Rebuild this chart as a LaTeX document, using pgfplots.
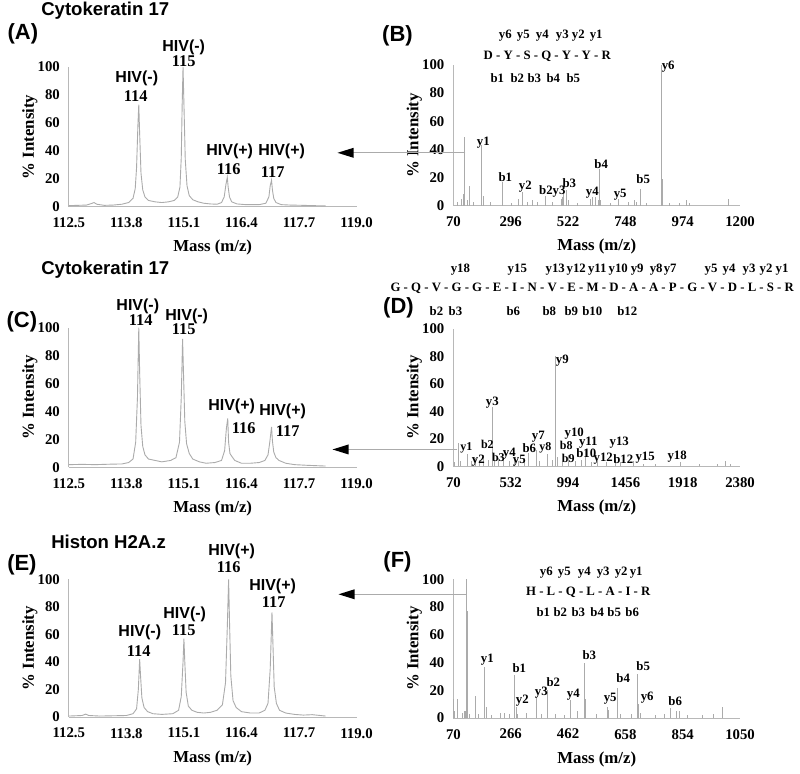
\documentclass[border=0pt]{standalone}
\usepackage{fontspec}
\setmainfont{Liberation Serif}
\newfontfamily\sansf{Liberation Sans}
\usepackage{pgfplots}
\pgfplotsset{compat=1.18}
\usetikzlibrary{arrows.meta}
\definecolor{spec}{HTML}{ABABAB}
\definecolor{axl}{HTML}{B8B8B8}
\newcommand\ionf{\fontsize{6.4}{7}\selectfont\bfseries}
\newcommand\ionfs{\fontsize{6.0}{7}\selectfont\bfseries}
\newcommand\hivf{\sansf\fontsize{8}{9}\selectfont\bfseries}
\newcommand\numf{\fontsize{8.2}{9}\selectfont\bfseries}
\newcommand\titf{\sansf\fontsize{9.3}{10}\selectfont\bfseries}
\newcommand\panf{\sansf\fontsize{11}{12}\selectfont\bfseries}
\newcommand\labf{\fontsize{8.4}{9}\selectfont\bfseries}
\pgfplotsset{
  spbase/.style={
    scale only axis, clip=false,
    axis lines*=left, axis line style={draw=axl, line width=0.5pt, -},
    ymin=0, ymax=100, ytick={0,20,...,100},
    tick style={draw=none},
    ticklabel style={font=\fontsize{7.4}{8}\selectfont\bfseries},
    /pgf/number format/assume math mode=true,
    /pgf/number format/1000 sep={},
    xlabel={Mass (m/z)}, ylabel={\% Intensity},
    every axis x label/.style={at={(axis description cs:0.5,0)}, anchor=center, yshift=-20.5pt, font=\labf},
    every axis y label/.style={at={(axis description cs:0,0.5)}, anchor=center, xshift=-19.5pt, rotate=90, font=\labf},
    xticklabel style={yshift=-2pt},
    yticklabel style={xshift=-1pt},
  },
  rep/.style={spbase, width=144pt, xmin=112.5, xmax=119.0,
    xtick={112.5,113.8,115.1,116.4,117.7,119.0},
    xticklabel style={/pgf/number format/.cd, fixed, fixed zerofill, precision=1}},
  msms/.style={spbase, width=143.5pt},
  tr/.style={spec, line width=0.45pt},
  st/.style={spec, line width=0.45pt, ycomb},
}
\begin{document}
\begin{tikzpicture}
\path (0,0) rectangle (400pt,382.5pt);
% ---------------- A
\begin{axis}[rep, at={(34pt,279pt)}, anchor=south west, height=70pt]
\addplot[tr] coordinates {(112.50,0.8)(112.70,1.0)(112.90,1.2)(113.00,2.2)(113.07,3.0)(113.13,1.8)(113.30,1.0)(113.50,1.2)(113.70,1.8)(113.85,3)(113.95,6)(114.00,13)(114.03,28)(114.06,58)(114.08,73)(114.10,52)(114.13,24)(114.17,12)(114.22,7)(114.30,4.5)(114.45,3.5)(114.60,3)(114.75,3.5)(114.88,4.5)(114.96,7)(115.01,14)(115.04,35)(115.06,72)(115.08,100)(115.10,74)(115.13,34)(115.17,15)(115.22,8)(115.30,5)(115.42,3.5)(115.55,2.5)(115.70,2)(115.85,1.8)(115.95,3)(116.01,7)(116.05,16)(116.08,21)(116.10,14)(116.13,7)(116.18,3.5)(116.30,2)(116.50,1.5)(116.80,1.5)(116.95,2.5)(117.02,7)(117.05,15)(117.08,19)(117.10,12)(117.13,6)(117.18,3)(117.30,1.5)(117.50,1.2)(117.80,1.0)(118.00,0.8)(118.30,0.6)};
\end{axis}
% ---------------- B
\begin{axis}[msms, at={(226.5pt,279.5pt)}, anchor=south west, height=70.5pt, xmin=70, xmax=1200, xtick={70,296,522,748,974,1200}]
\addplot[st] coordinates {(85,3)(100,5)(111,8)(115,49)(125,4)(135,14)(150,3)(180,43)(188,7)(215,3)(263,17)(300,2)(325,5)(342,10)(360,3)(382,4)(400,3)(431,7)(460,3)(494,5)(500,6)(505,8)(514,11)(525,4)(560,2)(610,5)(620,6)(629,6)(640,4)(646,26)(650,4)(690,2)(721,5)(760,3)(782,4)(790,3)(809,12)(830,2)(891,100)(893,19)(920,2)(960,2)(990,4)(1000,2)(1155,5)};
\end{axis}
% ---------------- C
\begin{axis}[rep, at={(34pt,148.5pt)}, anchor=south west, height=70pt]
\addplot[tr] coordinates {(112.50,2)(112.80,2.2)(113.10,2)(113.40,2.3)(113.70,2.5)(113.85,3.5)(113.95,6)(114.01,18)(114.05,50)(114.08,100)(114.10,68)(114.13,30)(114.17,15)(114.22,9)(114.30,6)(114.45,5)(114.60,4)(114.80,5)(114.92,7)(115.00,18)(115.04,50)(115.07,92)(115.09,68)(115.12,33)(115.16,17)(115.22,10)(115.30,6)(115.45,4)(115.60,3)(115.80,3.5)(115.95,5)(116.02,12)(116.06,28)(116.09,35)(116.11,18)(116.14,10)(116.18,8)(116.25,5)(116.40,3)(116.60,3)(116.80,3.5)(116.93,5)(117.00,9)(117.04,18)(117.08,29)(117.10,19)(117.13,11)(117.18,7)(117.25,5)(117.40,3)(117.60,2)(117.90,1.5)(118.30,1)};
\end{axis}
% ---------------- D
\begin{axis}[msms, at={(226.5pt,149pt)}, anchor=south west, height=69pt, xmin=70, xmax=2380, xtick={70,532,994,1456,1918,2380}]
\addplot[st] coordinates {(75,3)(114,17)(125,4)(180,9)(215,4)(247,6)(280,5)(314,8)(350,5)(381,43)(400,5)(435,6)(475,5)(520,4)(560,5)(596,4)(640,6)(676,10)(736,12)(760,4)(824,9)(870,5)(891,80)(905,7)(950,4)(998,8)(1050,4)(1100,5)(1133,12)(1180,3)(1227,4)(1300,3)(1374,5)(1420,3)(1522,4)(1600,2)(1700,2)(1897,3)(2050,2)(2200,2)(2260,4)(2300,1.5)};
\end{axis}
% ---------------- E
\begin{axis}[rep, at={(34pt,23.5pt)}, anchor=south west, height=69pt]
\addplot[tr] coordinates {(112.50,0.8)(112.80,1.2)(112.88,2.2)(112.95,1.2)(113.20,0.8)(113.50,1.0)(113.80,1.2)(113.95,2.5)(114.03,6)(114.07,20)(114.10,42)(114.12,30)(114.15,14)(114.20,7)(114.28,4)(114.40,2.5)(114.60,2)(114.85,2.5)(114.98,5)(115.04,15)(115.08,40)(115.10,57)(115.12,40)(115.15,18)(115.20,8)(115.28,5)(115.40,3.5)(115.55,3)(115.70,3.5)(115.85,5)(115.97,9)(116.04,25)(116.08,65)(116.11,100)(116.13,70)(116.16,30)(116.21,12)(116.28,7)(116.40,4)(116.60,3)(116.80,3)(116.93,5)(117.00,10)(117.05,35)(117.09,76)(117.11,55)(117.14,22)(117.19,10)(117.26,5)(117.40,3)(117.60,2)(117.80,1.5)(118.00,1.8)(118.30,0.8)};
\end{axis}
% ---------------- F
\begin{axis}[msms, at={(226.5pt,23pt)}, anchor=south west, height=69.5pt, xmin=70, xmax=1050, xtick={70,266,462,658,854,1050}]
\addplot[st] coordinates {(71,14)(75,5)(85,14)(100,4)(108,5)(111,5)(116,100)(118,77)(125,3)(147,16)(155,3)(176,37)(182,8)(200,2)(230,4)(246,4)(260,3)(280,31)(285,8)(290,3)(320,4)(355,15)(370,3)(392,20)(420,3)(450,2)(469,13)(494,5)(517,40)(522,14)(560,3)(595,8)(601,6)(631,22)(640,3)(680,3)(700,32)(704,10)(710,4)(760,2)(790,3)(813,7)(832,5)(843,5)(870,2)(920,2)(960,3)(989,8)};
\end{axis}
% ---------------- annotations (pixel frame)
\begin{scope}[x=0.5pt, y=-0.5pt, shift={(0pt,382.5pt)}]
\node[anchor=west, inner sep=0] at (40,11) {\titf Cytokeratin 17};
\node at (22,34) {\panf (A)};
\node at (397,36) {\panf (B)};
\node[anchor=west, inner sep=0] at (40,270) {\titf Cytokeratin 17};
\node at (21,322) {\panf (C)};
\node at (398,308) {\panf (D)};
\node[anchor=west, inner sep=0] at (50,543) {\titf Histon H2A.z};
\node at (21,565) {\panf (E)};
\node at (397,562) {\panf (F)};
\tikzset{lab/.style={inner sep=0}}
\node[lab] at (136,78) {\hivf HIV(-)};  \node[lab] at (135,96) {\numf 114};
\node[lab] at (183,47) {\hivf HIV(-)};  \node[lab] at (183,61) {\numf 115};
\node[lab] at (229,152) {\hivf HIV(+)}; \node[lab] at (228,169) {\numf 116};
\node[lab] at (281,152) {\hivf HIV(+)}; \node[lab] at (272,172) {\numf 117};
\node[lab] at (137,307) {\hivf HIV(-)};  \node[lab] at (140,320) {\numf 114};
\node[lab] at (186,317) {\hivf HIV(-)};  \node[lab] at (183,330) {\numf 115};
\node[lab] at (231,407) {\hivf HIV(+)}; \node[lab] at (243,429) {\numf 116};
\node[lab] at (282,412) {\hivf HIV(+)}; \node[lab] at (287,432) {\numf 117};
\node[lab] at (139,633) {\hivf HIV(-)};  \node[lab] at (138,652) {\numf 114};
\node[lab] at (184,615) {\hivf HIV(-)};  \node[lab] at (183,631) {\numf 115};
\node[lab] at (231,552) {\hivf HIV(+)}; \node[lab] at (228,568) {\numf 116};
\node[lab] at (272,587) {\hivf HIV(+)}; \node[lab] at (273,603) {\numf 117};
\node[lab] at (547,56) {\ionf D - Y - S - Q - Y - Y - R};
\foreach \x/\t in {505/y6,523/y5,542/y4,562/y3,578/y2,596/y1} \node[lab] at (\x,36) {\ionf \t};
\foreach \x/\t in {497/b1,517/b2,534/b3,553/b4,573/b5} \node[lab] at (\x,78) {\ionf \t};
\node[lab] at (592,289) {\ionf G - Q - V - G - G - E - I - N - V - E - M - D - A - A - P - G - V - D - L - S - R};
\foreach \x/\t in {460/y18,517/y15,555/y13,576/y12,597/y11,618/y10,637/y9,656/y8,670/y7,711/y5,729/y4,749/y3,766/y2,782/y1} \node[lab] at (\x,270) {\ionf \t};
\foreach \x/\t in {436/b2,455/b3,513/b6,549/b8,571/b9,592/b10,627/b12} \node[lab] at (\x,312) {\ionf \t};
\node[lab] at (588,593) {\ionf H - L - Q - L - A - I - R};
\foreach \x/\t in {546/y6,564/y5,584/y4,603/y3,621/y2,636/y1} \node[lab] at (\x,573) {\ionf \t};
\foreach \x/\t in {543/b1,560/b2,578/b3,597/b4,614/b5,632/b6} \node[lab] at (\x,613) {\ionf \t};
\foreach \x/\y/\t in {483/143/y1,505/177/b1,525/187/y2,552/192/b2y3,569/183/b3,601/164/b4,592/193/y4,620/195/y5,643/179/b5,668/67/y6} \node[lab] at (\x,\y) {\ionf \t};
\foreach \x/\y/\t in {492/403/y3,562/361/y9,538/437/y7,574/434/y10,588/443/y11,619/443/y13,529/449/b6,478/461/y2,509/454/y4,519/461/y5,586/454/b10,603/459/y12,623/460/b12,645/458/y15,677/457/y18} \node[lab] at (\x,\y) {\ionf \t};
\foreach \x/\y/\t in {466/448/y1,487/445/b2,498/458/b3,545/448/y8,566/446/b8,568/459/b9} \node[lab] at (\x,\y) {\ionfs \t};
\foreach \x/\y/\t in {487/660/y1,519/669/b1,522/701/y2,541/693/y3,553/683/b2,573/695/y4,589/656/b3,610/700/y5,623/679/b4,643/667/b5,647/698/y6,675/702/b6} \node[lab] at (\x,\y) {\ionf \t};
\draw[spec, line width=0.5pt] (465,153) -- (345,153);
\draw[spec, line width=0.5pt] (457,450) -- (340,450);
\draw[spec, line width=0.5pt] (466,595) -- (346,595);
\fill[black] (337,153) -- ++(16,-5) -- ++(0,10) -- cycle;
\fill[black] (332,450) -- ++(16,-5) -- ++(0,10) -- cycle;
\fill[black] (338,595) -- ++(16,-5) -- ++(0,10) -- cycle;
\end{scope}
\end{tikzpicture}
\end{document}
